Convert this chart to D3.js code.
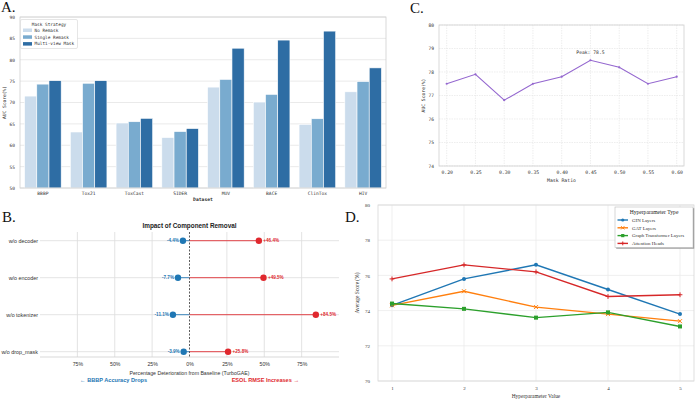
<!DOCTYPE html>
<html>
<head>
<meta charset="utf-8">
<script src="https://cdn.jsdelivr.net/npm/d3@7"></script>
<style>
  body { margin: 0; background: #fff; }
  svg { display: block; }
</style>
</head>
<body>
<svg id="chart" width="696" height="401"></svg>
<script>
// ---- panel A: mask strategy per dataset
const datasets = ['BBBP', 'Tox21', 'ToxCast', 'SIDER', 'MUV', 'BACE', 'ClinTox', 'HIV'];
const maskStrategies = ['No Remask', 'Single Remask', 'Multi-view Mask'];
const noRemask = [71.5, 63.1, 65.2, 61.8, 73.6, 70.1, 64.9, 72.5];
const singleRemask = [74.3, 74.5, 65.5, 63.2, 75.4, 71.9, 66.2, 74.9];
const multiViewMask = [75.1, 75.1, 66.3, 63.9, 82.7, 84.6, 86.7, 78.1];
const aucTicks = [50, 55, 60, 65, 70, 75, 80, 85, 90];

// ---- panel B: component removal
const components = ['w/o decoder', 'w/o encoder', 'w/o tokenizer', 'w/o drop_mask'];
const bbbpDrop = [-4.4, -7.7, -11.1, -3.9];
const esolIncrease = [46.4, 49.5, 84.5, 25.8];
const pctTicks = [-75, -50, -25, 0, 25, 50, 75];

// ---- panel C: mask ratio
const maskRatios = [0.20, 0.25, 0.30, 0.35, 0.40, 0.45, 0.50, 0.55, 0.60];
const ratioAuc = [77.5, 77.9, 76.8, 77.5, 77.8, 78.5, 78.2, 77.5, 77.8];
const ratioTicks = [74, 75, 76, 77, 78, 79, 80];

// ---- panel D: hyperparameters
const hpValues = [1, 2, 3, 4, 5];
const hpTypes = ['GIN Layers', 'GAT Layers', 'Graph Transformer Layers', 'Attention Heads'];
const ginLayers = [74.3, 75.8, 76.6, 75.2, 73.8];
const gatLayers = [74.3, 75.1, 74.2, 73.8, 73.4];
const transformerLayers = [74.4, 74.1, 73.6, 73.9, 73.1];
const attentionHeads = [75.8, 76.6, 76.2, 74.8, 74.9];
const hpTicks = [70, 72, 74, 76, 78, 80];

const svg = d3.select('#chart');
svg.append('rect').attr('width', 696).attr('height', 401).attr('fill', '#fff');

const mono = '"DejaVu Sans Mono", monospace';
const sans = '"Liberation Sans", Arial, sans-serif';
const serif = '"Liberation Serif", "Times New Roman", serif';

// panel letters
[['A.', 1, 12], ['B.', 2, 221.5], ['C.', 410, 12.5], ['D.', 345, 222]].forEach(([t, x, y]) => {
    svg.append('text').attr('x', x).attr('y', y).text(t)
        .attr('font-family', serif).attr('font-size', 15).attr('fill', '#111');
});

// ================= A =================
(function drawA() {
    const left = 20, right = 386, top = 17, bottom = 188;
    const g = svg.append('g');
    const x = d3.scaleBand().domain(datasets).range([left, right]).paddingInner(0).paddingOuter(0);
    const y = d3.scaleLinear().domain([50, 90]).range([bottom, top]);
    const sub = d3.scaleBand().domain(maskStrategies).range([0, x.bandwidth() * 0.8]);
    const colors = d3.scaleOrdinal().domain(maskStrategies).range(['#cbdcec', '#79abcf', '#2e6da4']);
    const series = [noRemask, singleRemask, multiViewMask];

    g.selectAll('line.grid').data(aucTicks).join('line')
        .attr('x1', left).attr('x2', right)
        .attr('y1', d => y(d)).attr('y2', d => y(d))
        .attr('stroke', '#e4e4e4').attr('stroke-width', 0.8);

    maskStrategies.forEach((s, si) => {
        g.selectAll(null).data(datasets).join('rect')
            .attr('x', d => x(d) + x.bandwidth() * 0.1 + sub(s))
            .attr('width', sub.bandwidth())
            .attr('y', (d, i) => y(series[si][i]))
            .attr('height', (d, i) => y(50) - y(series[si][i]))
            .attr('fill', colors(s)).attr('stroke', '#fff').attr('stroke-width', 0.6);
    });

    g.append('rect').attr('x', left).attr('y', top).attr('width', right - left).attr('height', bottom - top)
        .attr('fill', 'none').attr('stroke', '#d0d0d0').attr('stroke-width', 0.8);

    const yAxis = g.append('g').attr('transform', `translate(${left},0)`)
        .call(d3.axisLeft(y).tickValues(aucTicks).tickSize(0).tickPadding(5).tickFormat(d3.format('d')));
    yAxis.select('.domain').remove();
    yAxis.selectAll('text').attr('font-family', mono).attr('font-size', 4.5).attr('fill', '#333');

    const xAxis = g.append('g').attr('transform', `translate(0,${bottom})`)
        .call(d3.axisBottom(x).tickSize(0).tickPadding(4));
    xAxis.select('.domain').remove();
    xAxis.selectAll('text').attr('font-family', mono).attr('font-size', 4.6).attr('fill', '#333');

    g.append('text').attr('x', (left + right) / 2).attr('y', 201).attr('text-anchor', 'middle')
        .attr('font-family', mono).attr('font-size', 4.7).attr('font-weight', 'bold').attr('fill', '#333')
        .text('Dataset');
    g.append('text').attr('transform', `translate(6,${(top + bottom) / 2}) rotate(-90)`)
        .attr('text-anchor', 'middle').attr('font-family', mono).attr('font-size', 4.6).attr('fill', '#333')
        .text('AUC Score(%)');

    // legend
    const lg = g.append('g').attr('transform', 'translate(20.5,19.5)');
    lg.append('rect').attr('width', 57).attr('height', 29).attr('rx', 1.5)
        .attr('fill', '#fff').attr('stroke', '#d5d5d5').attr('stroke-width', 0.6);
    lg.append('text').attr('x', 28.5).attr('y', 6).attr('text-anchor', 'middle')
        .attr('font-family', mono).attr('font-size', 4.4).attr('fill', '#333').text('Mask Strategy');
    maskStrategies.forEach((s, i) => {
        lg.append('rect').attr('x', 2.5).attr('y', 9 + i * 6.8).attr('width', 9).attr('height', 3.5)
            .attr('fill', colors(s));
        lg.append('text').attr('x', 14).attr('y', 12.3 + i * 6.8)
            .attr('font-family', mono).attr('font-size', 4.4).attr('fill', '#333').text(s);
    });
})();

// ================= B =================
(function drawB() {
    const left = 40, right = 339, top = 232, bottom = 357;
    const g = svg.append('g');
    const x = d3.scaleLinear().domain([-100, 100]).range([left, right]);
    const y = d3.scalePoint().domain(components).range([240.7, 351.7]);
    const blue = '#1f77b4', red = '#e0282e';

    g.selectAll('line.vg').data(pctTicks.filter(d => d !== 0)).join('line')
        .attr('x1', d => x(d)).attr('x2', d => x(d)).attr('y1', top).attr('y2', bottom)
        .attr('stroke', '#dcdcdc').attr('stroke-width', 0.8);
    g.selectAll('line.hg').data(components).join('line')
        .attr('x1', left).attr('x2', right).attr('y1', d => y(d)).attr('y2', d => y(d))
        .attr('stroke', '#dcdcdc').attr('stroke-width', 0.8);
    g.append('line').attr('x1', left).attr('x2', right).attr('y1', bottom).attr('y2', bottom)
        .attr('stroke', '#cfcfcf').attr('stroke-width', 0.8);

    g.append('line').attr('x1', x(0)).attr('x2', x(0)).attr('y1', top).attr('y2', bottom)
        .attr('stroke', '#333').attr('stroke-width', 0.8).attr('stroke-dasharray', '2,1.5');

    components.forEach((c, i) => {
        g.append('line').attr('x1', x(0)).attr('x2', x(esolIncrease[i])).attr('y1', y(c)).attr('y2', y(c))
            .attr('stroke', red).attr('stroke-width', 1).attr('opacity', 0.85);
        g.append('line').attr('x1', x(0)).attr('x2', x(bbbpDrop[i])).attr('y1', y(c)).attr('y2', y(c))
            .attr('stroke', blue).attr('stroke-width', 1).attr('opacity', 0.85);
        g.append('circle').attr('cx', x(bbbpDrop[i])).attr('cy', y(c)).attr('r', 3.2).attr('fill', blue);
        g.append('circle').attr('cx', x(esolIncrease[i])).attr('cy', y(c)).attr('r', 3.2).attr('fill', red);
        g.append('text').attr('x', x(bbbpDrop[i]) - 4).attr('y', y(c) + 1.6).attr('text-anchor', 'end')
            .attr('font-family', sans).attr('font-size', 4.6).attr('font-weight', 'bold').attr('fill', blue)
            .text(`${bbbpDrop[i].toFixed(1)}%`);
        g.append('text').attr('x', x(esolIncrease[i]) + 4.5).attr('y', y(c) + 1.6)
            .attr('font-family', sans).attr('font-size', 4.6).attr('font-weight', 'bold').attr('fill', red)
            .text(`+${esolIncrease[i].toFixed(1)}%`);
    });

    const yAxis = g.append('g').attr('transform', `translate(${left},0)`)
        .call(d3.axisLeft(y).tickSize(0).tickPadding(2));
    yAxis.select('.domain').remove();
    yAxis.selectAll('text').attr('font-family', sans).attr('font-size', 5.4).attr('fill', '#333');

    const xAxis = g.append('g').attr('transform', `translate(0,${bottom})`)
        .call(d3.axisBottom(x).tickValues(pctTicks).tickSize(0).tickPadding(5)
            .tickFormat(d => `${Math.abs(d)}%`));
    xAxis.select('.domain').remove();
    xAxis.selectAll('text').attr('font-family', sans).attr('font-size', 5.2).attr('fill', '#333');

    g.append('text').attr('x', (left + right) / 2).attr('y', 227.5).attr('text-anchor', 'middle')
        .attr('font-family', sans).attr('font-size', 6.4).attr('font-weight', 'bold').attr('fill', '#222')
        .text('Impact of Component Removal');
    g.append('text').attr('x', x(0)).attr('y', 375).attr('text-anchor', 'middle')
        .attr('font-family', sans).attr('font-size', 5.2).attr('fill', '#333')
        .text('Percentage Deterioration from Baseline (TurboGAE)');
    g.append('text').attr('x', 80).attr('y', 381.5)
        .attr('font-family', sans).attr('font-size', 5.6).attr('font-weight', 'bold').attr('fill', blue)
        .text('\u2190 BBBP Accuracy Drops');
    g.append('text').attr('x', 299).attr('y', 381.5).attr('text-anchor', 'end')
        .attr('font-family', sans).attr('font-size', 5.6).attr('font-weight', 'bold').attr('fill', red)
        .text('ESOL RMSE Increases \u2192');
})();

// ================= C =================
(function drawC() {
    const left = 439, right = 684, top = 25, bottom = 166;
    const g = svg.append('g');
    const x = d3.scaleLinear().domain([0.20, 0.60]).range([446.7, 676.7]);
    const y = d3.scaleLinear().domain([74, 80]).range([bottom, top]);
    const purple = '#9467cf';

    g.selectAll('line.vg').data(maskRatios).join('line')
        .attr('x1', d => x(d)).attr('x2', d => x(d)).attr('y1', top).attr('y2', bottom)
        .attr('stroke', '#e2e2e2').attr('stroke-width', 0.6).attr('stroke-dasharray', '1.5,1');
    g.selectAll('line.hg').data(ratioTicks).join('line')
        .attr('x1', left).attr('x2', right).attr('y1', d => y(d)).attr('y2', d => y(d))
        .attr('stroke', '#e2e2e2').attr('stroke-width', 0.6).attr('stroke-dasharray', '1.5,1');
    g.append('rect').attr('x', left).attr('y', top).attr('width', right - left).attr('height', bottom - top)
        .attr('fill', 'none').attr('stroke', '#cfcfcf').attr('stroke-width', 0.8);

    const line = d3.line().x((d, i) => x(maskRatios[i])).y(d => y(d));
    g.append('path').datum(ratioAuc).attr('d', line)
        .attr('fill', 'none').attr('stroke', purple).attr('stroke-width', 1.1);
    g.selectAll('circle').data(ratioAuc).join('circle')
        .attr('cx', (d, i) => x(maskRatios[i])).attr('cy', d => y(d)).attr('r', 1.1).attr('fill', purple);

    const peak = d3.maxIndex(ratioAuc);
    g.append('text').attr('x', x(maskRatios[peak])).attr('y', y(ratioAuc[peak]) - 6.5).attr('text-anchor', 'middle')
        .attr('font-family', mono).attr('font-size', 4.7).attr('fill', '#333')
        .text(`Peak: ${ratioAuc[peak]}`);

    const yAxis = g.append('g').attr('transform', `translate(${left},0)`)
        .call(d3.axisLeft(y).tickValues(ratioTicks).tickSize(0).tickPadding(5).tickFormat(d3.format('d')));
    yAxis.select('.domain').remove();
    yAxis.selectAll('text').attr('font-family', mono).attr('font-size', 4.6).attr('fill', '#333');

    const xAxis = g.append('g').attr('transform', `translate(0,${bottom})`)
        .call(d3.axisBottom(x).tickValues(maskRatios).tickSize(0).tickPadding(5).tickFormat(d3.format('.2f')));
    xAxis.select('.domain').remove();
    xAxis.selectAll('text').attr('font-family', mono).attr('font-size', 4.8).attr('fill', '#333');

    g.append('text').attr('x', (left + right) / 2).attr('y', 181.5).attr('text-anchor', 'middle')
        .attr('font-family', mono).attr('font-size', 4.8).attr('fill', '#333').text('Mask Ratio');
    g.append('text').attr('transform', `translate(425,${(top + bottom) / 2}) rotate(-90)`)
        .attr('text-anchor', 'middle').attr('font-family', mono).attr('font-size', 4.7).attr('fill', '#333')
        .text('AUC Score(%)');
})();

// ================= D =================
(function drawD() {
    const left = 378, right = 694, top = 205, bottom = 381;
    const g = svg.append('g');
    const x = d3.scaleLinear().domain([1, 5]).range([392, 680]);
    const y = d3.scaleLinear().domain([70, 80]).range([bottom, top]);
    const series = [ginLayers, gatLayers, transformerLayers, attentionHeads];
    const colors = ['#1f77b4', '#ff7f0e', '#2ca02c', '#d62728'];
    const markers = ['circle', 'x', 'square', 'plus'];

    g.selectAll('line.vg').data(hpValues).join('line')
        .attr('x1', d => x(d)).attr('x2', d => x(d)).attr('y1', top).attr('y2', bottom)
        .attr('stroke', '#ebebeb').attr('stroke-width', 0.8);
    g.selectAll('line.hg').data(hpTicks).join('line')
        .attr('x1', left).attr('x2', right).attr('y1', d => y(d)).attr('y2', d => y(d))
        .attr('stroke', '#ebebeb').attr('stroke-width', 0.8);
    g.append('rect').attr('x', left).attr('y', top).attr('width', right - left).attr('height', bottom - top)
        .attr('fill', 'none').attr('stroke', '#d8d8d8').attr('stroke-width', 0.8);

    function marker(sel, type, cx, cy, color, s) {
        if (type === 'circle') {
            sel.append('circle').attr('cx', cx).attr('cy', cy).attr('r', s).attr('fill', color);
        } else if (type === 'square') {
            sel.append('rect').attr('x', cx - s).attr('y', cy - s).attr('width', 2 * s).attr('height', 2 * s)
                .attr('fill', color);
        } else if (type === 'x') {
            sel.append('path').attr('d', `M${cx - s},${cy - s}L${cx + s},${cy + s}M${cx - s},${cy + s}L${cx + s},${cy - s}`)
                .attr('stroke', color).attr('stroke-width', 1);
        } else {
            sel.append('path').attr('d', `M${cx - s * 1.2},${cy}L${cx + s * 1.2},${cy}M${cx},${cy - s * 1.2}L${cx},${cy + s * 1.2}`)
                .attr('stroke', color).attr('stroke-width', 1);
        }
    }

    const line = d3.line().x((d, i) => x(hpValues[i])).y(d => y(d));
    series.forEach((vals, si) => {
        g.append('path').datum(vals).attr('d', line)
            .attr('fill', 'none').attr('stroke', colors[si]).attr('stroke-width', 1.4);
        vals.forEach((v, i) => marker(g, markers[si], x(hpValues[i]), y(v), colors[si], 2));
    });

    const yAxis = g.append('g').attr('transform', `translate(${left},0)`)
        .call(d3.axisLeft(y).tickValues(hpTicks).tickSize(0).tickPadding(8).tickFormat(d3.format('d')));
    yAxis.select('.domain').remove();
    yAxis.selectAll('text').attr('font-family', serif).attr('font-size', 5).attr('fill', '#333');

    const xAxis = g.append('g').attr('transform', `translate(0,${bottom})`)
        .call(d3.axisBottom(x).tickValues(hpValues).tickSize(0).tickPadding(5).tickFormat(d3.format('d')));
    xAxis.select('.domain').remove();
    xAxis.selectAll('text').attr('font-family', serif).attr('font-size', 5).attr('fill', '#333');

    g.append('text').attr('x', (left + right) / 2).attr('y', 398).attr('text-anchor', 'middle')
        .attr('font-family', serif).attr('font-size', 5.4).attr('fill', '#333').text('Hyperparameter Value');
    g.append('text').attr('transform', `translate(359,${(top + bottom) / 2}) rotate(-90)`)
        .attr('text-anchor', 'middle').attr('font-family', serif).attr('font-size', 5.4).attr('fill', '#333')
        .text('Average Score (%)');

    // legend with shadow
    const lg = g.append('g').attr('transform', 'translate(615,207)');
    lg.append('rect').attr('x', 1.2).attr('y', 1.2).attr('width', 78).attr('height', 40.5).attr('fill', '#999');
    lg.append('rect').attr('width', 78).attr('height', 40.5)
        .attr('fill', '#fff').attr('stroke', '#bdbdbd').attr('stroke-width', 0.6);
    lg.append('text').attr('x', 39).attr('y', 7.2).attr('text-anchor', 'middle')
        .attr('font-family', serif).attr('font-size', 5.6).attr('fill', '#222').text('Hyperparameter Type');
    hpTypes.forEach((t, i) => {
        const cy = 13 + i * 7.8;
        lg.append('line').attr('x1', 2.5).attr('x2', 13).attr('y1', cy).attr('y2', cy)
            .attr('stroke', colors[i]).attr('stroke-width', 1.4);
        marker(lg, markers[i], 7.75, cy, colors[i], 1.6);
        lg.append('text').attr('x', 17).attr('y', cy + 1.7)
            .attr('font-family', serif).attr('font-size', 4.9).attr('fill', '#333').text(t);
    });
})();
</script>
</body>
</html>
